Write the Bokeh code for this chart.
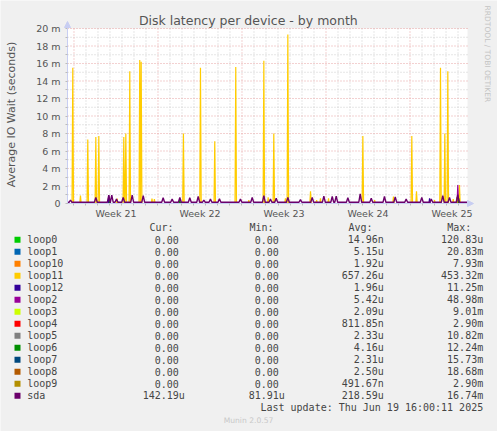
import math
from bokeh.plotting import figure
from bokeh.models import Range1d, FixedTicker, LinearAxis, Arrow, NormalHead
from bokeh.core.properties import value
from bokeh.embed import file_html
from bokeh.resources import INLINE

# ---------------- data ----------------
# time axis: days relative to Sunday 2025-06-15 00:00 (last update Thu Jun 19 16:00)
T_START = -28.54
T_END = 4.79
Y_MAX = 0.020

week_lines = [-28, -21, -14, -7, 0]
day_lines = [-27, -26, -25, -24, -23, -22, -20, -19, -18, -17, -16, -15, -13, -12, -11,
             -10, -9, -8, -6, -5, -4, -3, -2, -1, 1, 2, 3, 4]
week_label_pos = [-24.5, -17.5, -10.5, -3.5, 3.5]
week_labels = ["Week 21", "Week 22", "Week 23", "Week 24", "Week 25"]

y_ticks = [0.0, 0.002, 0.004, 0.006, 0.008, 0.010, 0.012, 0.014, 0.016, 0.018, 0.020]
y_tick_labels = ["0", "2 m", "4 m", "6 m", "8 m", "10 m", "12 m", "14 m", "16 m", "18 m", "20 m"]
y_minor = [0.001, 0.003, 0.005, 0.007, 0.009, 0.011, 0.013, 0.015, 0.017, 0.019]

names = ["loop0", "loop1", "loop10", "loop11", "loop12", "loop2", "loop3",
         "loop4", "loop5", "loop6", "loop7", "loop8", "loop9", "sda"]
colors = ["#00CC00", "#0066B3", "#FF8000", "#FFCC00", "#330099", "#990099", "#CCFF00",
          "#FF0000", "#808080", "#008F00", "#00487D", "#B35A00", "#B38F00", "#6B006B"]
cur_vals = ["0.00", "0.00", "0.00", "0.00", "0.00", "0.00", "0.00",
            "0.00", "0.00", "0.00", "0.00", "0.00", "0.00", "142.19u"]
min_vals = ["0.00", "0.00", "0.00", "0.00", "0.00", "0.00", "0.00",
            "0.00", "0.00", "0.00", "0.00", "0.00", "0.00", "81.91u"]
avg_vals = ["14.96n", "5.15u", "1.92u", "657.26u", "1.96u", "5.42u", "2.09u",
            "811.85n", "2.33u", "4.16u", "2.31u", "2.50u", "491.67n", "218.59u"]
max_vals = ["120.83u", "20.83m", "7.93m", "453.32m", "11.25m", "48.98m", "9.01m",
            "2.90m", "10.82m", "12.24m", "15.73m", "18.68m", "2.90m", "16.74m"]

# resting level of each series (seconds)
baseline = {"sda": 0.00014}

# spikes: time (days) and value (seconds)
loop11_t = [-28.10, -27.46, -26.85, -26.18, -25.93, -24.40, -23.85, -23.68, -23.35,
            -22.52, -22.40, -21.50, -21.30, -18.88, -17.46, -16.27, -14.52, -13.43,
            -12.18, -11.82, -11.35, -10.38, -10.18, -8.29, -7.78, -7.46, -6.79,
            -3.93, -2.95, -1.38, 0.15, 0.54, 2.04, 2.54, 2.90, 3.15, 3.60, 4.12]
loop11_v = [0.0155, 0.0009, 0.0073, 0.0076, 0.0077, 0.00055, 0.0076, 0.0080, 0.0151,
            0.0164, 0.0162, 0.00055, 0.0005, 0.0080, 0.0155, 0.0071, 0.0156, 0.0004,
            0.0163, 0.0007, 0.0080, 0.0006, 0.0193, 0.0014, 0.0004, 0.0006, 0.0006,
            0.0077, 0.0004, 0.0008, 0.0077, 0.0014, 0.0004, 0.0155, 0.0080, 0.0151, 0.0005, 0.0021]
loop12_t = [-25.10, 1.63]
loop12_v = [0.00095, 0.0006]
loop2_t = [3.98]
loop2_v = [0.0021]
loop6_t = [-25.00, -19.18, 4.05]
loop6_v = [0.0004, 0.0004, 0.0006]
loop9_t = [3.90]
loop9_v = [0.0007]
sda_t = [-28.29, -26.18, -25.10, -24.85, -24.46, -23.90, -23.15, -22.23, -20.57, -19.82,
         -19.18, -18.35, -17.65, -17.18, -16.63, -15.88, -14.13, -13.15, -12.18, -11.63,
         -11.15, -10.18, -9.13, -8.15, -7.18, -6.48, -6.15, -5.18, -4.15, -3.23,
         -2.13, -1.23, -0.32, 0.98, 1.77, 2.73, 3.29, 3.98]
sda_v = [0.0004, 0.0007, 0.00095, 0.00095, 0.0005, 0.0007, 0.00095, 0.0009, 0.00065, 0.0005,
         0.0007, 0.00065, 0.0008, 0.0004, 0.0005, 0.00055, 0.0005, 0.0007, 0.0009, 0.0005,
         0.0006, 0.0007, 0.00045, 0.0007, 0.00085, 0.0008, 0.00085, 0.00065, 0.0011, 0.0006,
         0.0008, 0.00075, 0.0005, 0.0007, 0.0005, 0.0009, 0.0007, 0.0010]

spikes = {
    "loop11": (loop11_t, loop11_v),
    "loop12": (loop12_t, loop12_v),
    "loop2": (loop2_t, loop2_v),
    "loop6": (loop6_t, loop6_v),
    "loop9": (loop9_t, loop9_v),
    "sda": (sda_t, sda_v),
}


def build(name):
    base = baseline.get(name, 0.0)
    half = 0.12 if name == "sda" else 0.06
    xs, ys = [T_START], [base]
    ts, vs = spikes.get(name, ([], []))
    for t, v in sorted(zip(ts, vs)):
        xs += [t - half, t, t + half]
        ys += [base, v, base]
    xs.append(T_END)
    ys.append(base)
    return xs, ys


# ---------------- styles / layout ----------------
BG = "#F0F0F0"
AXIS = "#C8CEF2"
MINOR = "#CDCDCD"
MAJOR = "#E6A3A3"
TXT = "#555555"
LTXT = "#454545"
SANS = "DejaVu Sans"
MONO = "DejaVu Sans Mono"

W, H = 497, 431
FL, FR, FT, FB = 67, 467, 28, 203          # chart area inside the canvas (px)
kx = (T_END - T_START) / (FR - FL)
ky = Y_MAX / (FB - FT)

p = figure(width=W, height=H, x_range=Range1d(0, W), y_range=Range1d(H, 0),
           output_backend="svg", toolbar_location=None, min_border=0,
           x_axis_location=None, y_axis_location=None)
p.extra_x_ranges = {"t": Range1d(T_START - FL * kx, T_END + (W - FR) * kx)}
p.extra_y_ranges = {"v": Range1d(-(H - FB) * ky, Y_MAX + FT * ky)}
p.background_fill_color = BG
p.border_fill_color = BG
p.outline_line_color = None
p.grid.visible = False

TV = dict(x_range_name="t", y_range_name="v")

# chart background and grid
p.quad(left=[T_START], right=[T_END], bottom=[0], top=[Y_MAX], fill_color="white",
       line_color=None, **TV)
p.segment(x0=day_lines, y0=0, x1=day_lines, y1=Y_MAX, line_color=MINOR,
          line_dash="1 2", line_width=1, **TV)
p.segment(x0=T_START, y0=y_minor, x1=T_END, y1=y_minor, line_color=MINOR,
          line_dash="1 2", line_width=1, **TV)
p.segment(x0=week_lines, y0=0, x1=week_lines, y1=Y_MAX, line_color=MAJOR,
          line_dash="1 2", line_width=1, **TV)
p.segment(x0=T_START, y0=y_ticks[1:], x1=T_END, y1=y_ticks[1:], line_color=MAJOR,
          line_dash="1 2", line_width=1, **TV)

for name, col in zip(names, colors):
    xs, ys = build(name)
    p.line(xs, ys, line_color=col, line_width=1.4 if name == "sda" else 1.2, **TV)

# axes
xa = LinearAxis(fixed_location=0, bounds=(T_START, T_END),
                ticker=FixedTicker(ticks=week_label_pos, minor_ticks=list(range(-28, 5))), **TV)
xa.major_label_overrides = dict(zip(week_label_pos, week_labels))
xa.major_tick_line_color = None
xa.major_tick_out = 2
xa.major_tick_in = 0
xa.minor_tick_out = 2
xa.minor_tick_in = 0
xa.minor_tick_line_color = "#BBBBBB"
xa.major_label_standoff = 2

ya = LinearAxis(fixed_location=T_START, bounds=(0, Y_MAX),
                ticker=FixedTicker(ticks=y_ticks, minor_ticks=y_minor), **TV)
ya.major_label_overrides = dict(zip(y_ticks, y_tick_labels))
ya.major_tick_out = 2
ya.major_tick_in = 0
ya.minor_tick_out = 2
ya.minor_tick_in = 0
ya.major_tick_line_color = "#BBBBBB"
ya.minor_tick_line_color = "#BBBBBB"
ya.major_label_standoff = 5

for ax in (xa, ya):
    ax.axis_line_color = AXIS
    ax.major_label_text_font = SANS
    ax.major_label_text_font_size = "9.5px"
    ax.major_label_text_color = TXT
p.add_layout(xa, "below")
p.add_layout(ya, "left")

p.add_layout(Arrow(x_start=T_START, y_start=0.0195, x_end=T_START, y_end=0.0208,
                   line_color=AXIS, line_width=1,
                   end=NormalHead(size=6, fill_color=AXIS, line_color=AXIS), **TV))
p.add_layout(Arrow(x_start=T_END - 0.2, y_start=0, x_end=T_END + 0.5, y_end=0,
                   line_color=AXIS, line_width=1,
                   end=NormalHead(size=6, fill_color=AXIS, line_color=AXIS), **TV))

# titles
p.text(x=[247.8], y=[19.5], text=["Disk latency per device - by month"], text_font=value(SANS),
       text_font_size="12.5px", text_color=TXT, text_align="center", text_baseline="middle")
p.text(x=[10.5], y=[114], text=["Average IO Wait (seconds)"], angle=math.pi / 2,
       text_font=value(SANS), text_font_size="11px", text_color=TXT,
       text_align="center", text_baseline="middle")
p.text(x=[487.3], y=[53.4], text=["RRDTOOL / TOBI OETIKER"], angle=-math.pi / 2,
       text_font=value(SANS), text_font_size="7.5px", text_color="#C4C4C4",
       text_align="center", text_baseline="middle")

# legend table
CH = 6.02
row_y = [239.3 + 12 * i for i in range(len(names))]

p.rect(x=[17] * len(names), y=row_y, width=6, height=6, fill_color=colors, line_color=None)
p.text(x=[26.7] * len(names), y=row_y, text=names, text_font=value(MONO), text_font_size="10px",
       text_color=LTXT, text_align="left", text_baseline="middle")

for vals, edge in [(cur_vals, 184.3), (min_vals, 284.3), (avg_vals, 383.3), (max_vals, 482.7)]:
    xs = [edge - (0 if v[-1].isalpha() else CH) for v in vals]
    p.text(x=xs, y=row_y, text=vals, text_font=value(MONO), text_font_size="10px",
           text_color=LTXT, text_align="right", text_baseline="middle")

headers = ["Cur:", "Min:", "Avg:", "Max:"]
p.text(x=[149, 249, 348, 446.7], y=[227.3] * 4, text=headers, text_font=value(MONO),
       text_font_size="10px", text_color=LTXT, text_align="left", text_baseline="middle")

p.text(x=[482.7], y=[407.3], text=["Last update: Thu Jun 19 16:00:11 2025"],
       text_font=value(MONO), text_font_size="10px", text_color=LTXT,
       text_align="right", text_baseline="middle")
p.text(x=[248], y=[420], text=["Munin 2.0.57"], text_font=value(SANS),
       text_font_size="7.6px", text_color="#C8C8C8", text_align="center", text_baseline="middle")

open("out.html", "w").write(file_html(p, INLINE))
